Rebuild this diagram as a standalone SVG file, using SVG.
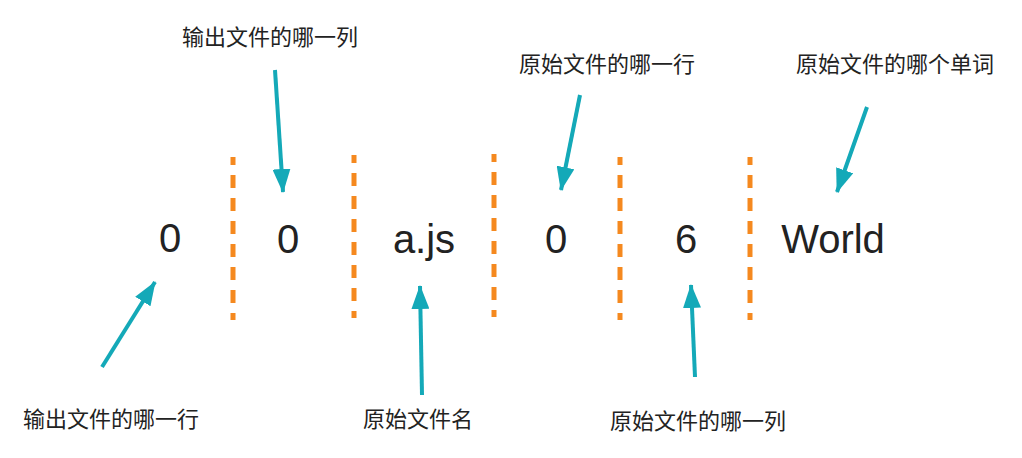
<svg xmlns="http://www.w3.org/2000/svg" width="1022" height="458" viewBox="0 0 1022 458">
<defs>
<style>
.val{font-family:"Liberation Sans","Noto Sans",sans-serif;font-size:40px;fill:#222;text-anchor:middle}
.lbl{font-family:"Noto Sans CJK SC","Noto Sans",sans-serif;font-size:22px;fill:#222;text-anchor:middle}
.sep{stroke:#f5891f;stroke-width:5;stroke-dasharray:13 10;stroke-dashoffset:5}
.arr{stroke:#14a9b8;stroke-width:4;fill:none;marker-end:url(#ah)}
</style>
<marker id="ah" markerUnits="userSpaceOnUse" markerWidth="24" markerHeight="18" refX="23" refY="9" orient="auto" viewBox="0 0 24 18">
<path d="M0,0 L24,9 L0,18 z" fill="#14a9b8"/>
</marker>
</defs>
<rect width="1022" height="458" fill="#fff"/>
<g id="separators">
<line class="sep" x1="233" y1="157" x2="233" y2="320"/>
<line class="sep" x1="354" y1="155" x2="354" y2="318"/>
<line class="sep" x1="494" y1="154" x2="494" y2="317"/>
<line class="sep" x1="620" y1="157" x2="620" y2="320"/>
<line class="sep" x1="750" y1="157" x2="750" y2="320"/>
</g>
<g id="node-out-line"><text class="val" x="170" y="252">0</text></g>
<g id="node-out-col"><text class="val" x="288" y="253">0</text></g>
<g id="node-src-file"><text class="val" x="424" y="253">a.js</text></g>
<g id="node-src-line"><text class="val" x="556" y="253">0</text></g>
<g id="node-src-col"><text class="val" x="686" y="253">6</text></g>
<g id="node-src-word"><text class="val" x="833" y="253">World</text></g>
<g id="label-out-col"><text class="lbl" x="270" y="45">输出文件的哪一列</text></g>
<g id="label-src-line"><text class="lbl" x="607" y="72">原始文件的哪一行</text></g>
<g id="label-src-word"><text class="lbl" x="895" y="72">原始文件的哪个单词</text></g>
<g id="label-out-line"><text class="lbl" x="111" y="427">输出文件的哪一行</text></g>
<g id="label-src-file"><text class="lbl" x="418" y="427">原始文件名</text></g>
<g id="label-src-col"><text class="lbl" x="698" y="429">原始文件的哪一列</text></g>
<g id="connectors">
<line class="arr" x1="275" y1="70" x2="283" y2="192"/>
<line class="arr" x1="102" y1="367" x2="155" y2="282"/>
<line class="arr" x1="422" y1="395" x2="420" y2="286"/>
<line class="arr" x1="580" y1="95" x2="561" y2="190"/>
<line class="arr" x1="695" y1="377" x2="691" y2="285"/>
<line class="arr" x1="867" y1="107" x2="837" y2="192"/>
</g>
</svg>
